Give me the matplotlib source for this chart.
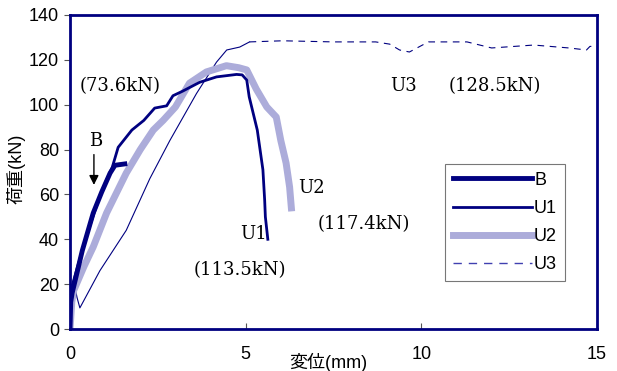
"""Load-displacement curves for specimens B, U1, U2 and U3."""

import matplotlib

matplotlib.use("Agg")
import matplotlib.pyplot as plt

NAVY = "#000080"
LAVENDER = "#acacda"

# displacement (mm) / load (kN)
b_disp = [0.0, 0.02, 0.06, 0.35, 0.66, 0.9, 1.14, 1.28, 1.56]
b_load = [0.0, 12.0, 16.0, 35.0, 51.7, 61.0, 69.5, 73.0, 73.6]

u1_disp = [0.0, 0.02, 0.2, 0.5, 0.8, 1.0, 1.2, 1.37, 1.76, 2.1, 2.41, 2.75,
           2.93, 3.2, 3.69, 4.17, 4.74, 4.9, 5.03, 5.1, 5.33, 5.49, 5.54,
           5.56, 5.63]
u1_load = [0.0, 17.0, 27.0, 43.0, 57.0, 65.0, 72.0, 81.0, 88.7, 93.0, 98.5,
           99.5, 104.0, 106.0, 110.0, 112.4, 113.5, 113.3, 111.0, 103.5, 88.7,
           71.0, 57.5, 50.0, 40.0]

u2_disp = [0.0, 0.05, 0.1, 0.4, 0.66, 1.04, 1.6, 2.0, 2.37, 2.65, 3.0, 3.4,
           3.88, 4.45, 4.8, 5.03, 5.3, 5.6, 5.87, 6.0, 6.15, 6.25, 6.3]
u2_load = [0.0, 12.0, 17.0, 28.0, 36.6, 51.7, 69.5, 80.0, 88.7, 93.0, 99.0,
           109.6, 114.6, 117.4, 116.5, 115.5, 107.0, 99.0, 94.5, 84.0, 74.0,
           63.3, 54.0]

u3_rise_disp = [0.0, 0.05, 0.14, 0.2, 0.28, 0.85, 1.6, 2.27, 2.84, 3.6, 4.17,
                4.46, 4.83, 5.11]
u3_rise_load = [0.0, 15.0, 18.7, 14.0, 9.4, 26.0, 44.0, 67.0, 84.0, 105.0,
                119.0, 124.4, 125.7, 128.0]
u3_tail_disp = [5.11, 6.05, 7.5, 8.7, 9.1, 9.38, 9.66, 10.2, 11.3, 12.0, 13.2,
                14.2, 14.7, 14.8, 15.0]
u3_tail_load = [128.0, 128.5, 128.0, 128.0, 127.0, 124.4, 123.5, 128.0, 128.0,
                125.3, 126.6, 125.3, 124.4, 126.0, 126.0]

x_ticks = [0, 5, 10, 15]
y_ticks = [0, 20, 40, 60, 80, 100, 120, 140]

plt.rcParams["font.family"] = ["Liberation Sans", "Noto Sans CJK JP"]
SERIF = ["DejaVu Serif"]

fig = plt.figure(figsize=(6.17, 3.71), dpi=100)
ax = fig.add_axes([0.1135, 0.1132, 0.8541, 0.8464])

ax.plot(u3_rise_disp, u3_rise_load, color=NAVY, lw=0.8)
ax.plot(u3_tail_disp, u3_tail_load, color=NAVY, lw=0.8, ls=(0, (6, 5)))
ax.plot(u2_disp, u2_load, color=LAVENDER, lw=5)
ax.plot(u1_disp, u1_load, color=NAVY, lw=2)
ax.plot(b_disp, b_load, color=NAVY, lw=3.5)

# legend handles
h_b, = ax.plot([], [], color=NAVY, lw=3.5, label="B")
h_u1, = ax.plot([], [], color=NAVY, lw=2, label="U1")
h_u2, = ax.plot([], [], color=LAVENDER, lw=5, label="U2")
h_u3, = ax.plot([], [], color="#4040b0", lw=1, ls=(0, (6, 5)), label="U3")
leg = ax.legend(handles=[h_b, h_u1, h_u2, h_u3], loc="upper left",
                bbox_to_anchor=(0.711, 0.527), frameon=True, fancybox=False,
                edgecolor="#555555", fontsize=13, handlelength=4.4,
                handletextpad=0.1, labelspacing=0.62, borderpad=0.45,
                borderaxespad=0)
leg.get_frame().set_linewidth(0.8)

ax.set_xlim(0, 15)
ax.set_ylim(0, 140)
ax.set_xticks(x_ticks)
ax.set_yticks(y_ticks)
ax.tick_params(axis="x", direction="in", length=4, labelsize=13, pad=12,
               color="#555555")
ax.tick_params(axis="y", direction="out", length=4, labelsize=13, pad=4,
               color="#555555")
for spine in ax.spines.values():
    spine.set_color(NAVY)
    spine.set_linewidth(2)

ax.set_xlabel("変位(mm)", fontsize=13)
ax.xaxis.set_label_coords(0.49, -0.075)
ax.set_ylabel("荷重(kN)", fontsize=13)
ax.yaxis.set_label_coords(-0.085, 0.51)

ax.text(0.28, 108.5, "(73.6kN)", family=SERIF, fontsize=13, va="center")
ax.text(0.74, 84, "B", family=SERIF, fontsize=13, ha="center", va="center")
ax.annotate("", xy=(0.68, 63), xytext=(0.68, 79),
            arrowprops=dict(arrowstyle="-|>", color="black", lw=1,
                            mutation_scale=14))
ax.text(5.23, 42.5, "U1", family=SERIF, fontsize=13, ha="center", va="center")
ax.text(4.83, 26.3, "(113.5kN)", family=SERIF, fontsize=13, ha="center",
        va="center")
ax.text(6.88, 63, "U2", family=SERIF, fontsize=13, ha="center", va="center")
ax.text(8.35, 46.8, "(117.4kN)", family=SERIF, fontsize=13, ha="center",
        va="center")
ax.text(9.49, 108.3, "U3", family=SERIF, fontsize=13, ha="center", va="center")
ax.text(12.1, 108.3, "(128.5kN)", family=SERIF, fontsize=13, ha="center",
        va="center")

fig.savefig("out.png", dpi=100)
